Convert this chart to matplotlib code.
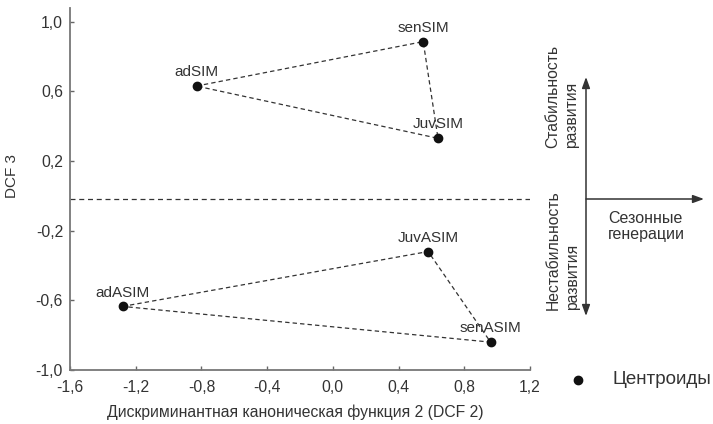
import matplotlib
matplotlib.use("Agg")
import matplotlib.pyplot as plt
import numpy as np

plt.rcParams['font.family'] = ['Liberation Sans', 'DejaVu Sans']

# centroids (DCF 2, DCF 3)
sim_names = ["adSIM", "senSIM", "JuvSIM"]
sim_x = [-0.83, 0.55, 0.64]
sim_y = [0.63, 0.885, 0.33]

asim_names = ["adASIM", "JuvASIM", "senASIM"]
asim_x = [-1.28, 0.58, 0.96]
asim_y = [-0.635, -0.32, -0.84]

split_y = -0.02
xticks = [-1.6, -1.2, -0.8, -0.4, 0.0, 0.4, 0.8, 1.2]
yticks = [-1.0, -0.6, -0.2, 0.2, 0.6, 1.0]

txt = "#333333"
fig = plt.figure(figsize=(7.13, 4.24), dpi=100)
ax = fig.add_axes([70/713, 1 - 370/424, 460/713, 362/424])

for xs, ys, names in [(sim_x, sim_y, sim_names), (asim_x, asim_y, asim_names)]:
    ax.plot(xs + xs[:1], ys + ys[:1], ls=(0, (3.5, 2.5)), lw=0.9, color="#333333")
    ax.plot(xs, ys, "o", ms=6, color="#111111")
    for x, y, n in zip(xs, ys, names):
        ax.annotate(n, (x, y), xytext=(0, 10), textcoords="offset points",
                    ha="center", va="center", fontsize=11, color=txt)

ax.axhline(split_y, ls=(0, (4, 3)), lw=0.9, color="#333333")

ax.set_xlim(-1.6, 1.2)
ax.set_ylim(-1.0, 1.078)
ax.set_xticks(xticks)
ax.set_yticks(yticks)
ax.set_xticklabels([("%.1f" % v).replace(".", ",") for v in xticks])
ax.set_yticklabels([("%.1f" % v).replace(".", ",") for v in yticks])
ax.tick_params(direction="in", length=3, width=1, colors="#666666",
               labelcolor=txt, labelsize=11.3)
ax.tick_params(axis="y", pad=5)
ax.tick_params(axis="x", pad=7)
for s in ["top", "right"]:
    ax.spines[s].set_visible(False)
for s in ["left", "bottom"]:
    ax.spines[s].set_color("#777777")
    ax.spines[s].set_linewidth(1.3)

ax.set_xlabel("Дискриминантная каноническая функция 2 (DCF 2)", fontsize=11.3, color=txt)
ax.xaxis.set_label_coords(0.49, -0.095)
ax.set_ylabel("DCF 3", fontsize=11, color=txt)
ax.yaxis.set_label_coords(-0.11, 0.536)

# scheme on the right
def fx(px):
    return px / 713

def fy(py):
    return 1 - py / 424

arrow = dict(arrowstyle="<|-|>,head_length=0.55,head_width=0.2", color="#333333", lw=1.1,
             shrinkA=0, shrinkB=0, mutation_scale=12)
fig.add_artist(matplotlib.patches.FancyArrowPatch((fx(586), fy(316)), (fx(586), fy(77)),
               transform=fig.transFigure, **arrow))
arrow1 = dict(arrow, arrowstyle="-|>,head_length=0.55,head_width=0.2")
fig.add_artist(matplotlib.patches.FancyArrowPatch((fx(586), fy(199)), (fx(704), fy(199)),
               transform=fig.transFigure, **arrow1))

fig.text(fx(562), fy(148), "Стабильность\nразвития", rotation=90, ha="center", va="bottom",
         multialignment="left", fontsize=11.3, color=txt, linespacing=1.3)
fig.text(fx(563), fy(310), "Нестабильность\nразвития", rotation=90, ha="center", va="bottom",
         multialignment="left", fontsize=11.3, color=txt, linespacing=1.3)
fig.text(fx(608), fy(211), "Сезонные\nгенерации", ha="left", va="top",
         fontsize=11.5, color=txt, linespacing=1.1)

fig.add_artist(plt.Line2D([fx(578)], [fy(380)], marker="o", ms=6, color="#111111",
                          transform=fig.transFigure))
fig.text(fx(612), fy(380), "Центроиды", ha="left", va="center", fontsize=13.5, color=txt)

fig.savefig("out.png", dpi=100)
